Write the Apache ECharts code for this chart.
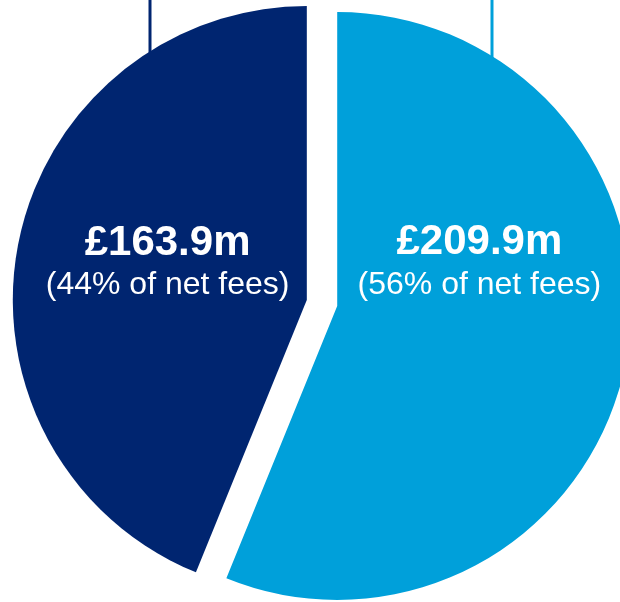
<!DOCTYPE html>
<html>
<head>
<meta charset="utf-8">
<script src="https://cdn.jsdelivr.net/npm/echarts@6/dist/echarts.min.js"></script>
<style>
  html, body { margin: 0; padding: 0; background: #fff; }
  #chart { width: 620px; height: 602px; }
</style>
</head>
<body>
<div id="chart"></div>
<script>
// net fees split (clockwise from 12 o'clock)
const segments = ['Segment B', 'Segment A'];
const feeValues = [209.9, 163.9];
const feeShares = [56, 44];
const segmentColors = ['#00a0da', '#002570'];

const chart = echarts.init(document.getElementById('chart'));

const pieData = segments.map((name, i) => ({
  name: name,
  value: feeValues[i],
  selected: true,
  itemStyle: { color: segmentColors[i] },
  select: { itemStyle: { color: segmentColors[i] } }
}));

// nudge the inside labels up to where the original sits them
const labelShift = [
  { dx: -5, dy: -71 },
  { dx: 8, dy: -7 }
];

const fontName = '"Liberation Sans", Arial, sans-serif';

chart.setOption({
  animation: false,
  graphic: [
    {
      type: 'line',
      z: -1,
      shape: { x1: 150, y1: 0, x2: 150, y2: 70 },
      style: { stroke: segmentColors[1], lineWidth: 3 }
    },
    {
      type: 'line',
      z: -1,
      shape: { x1: 492, y1: 0, x2: 492, y2: 75 },
      style: { stroke: segmentColors[0], lineWidth: 3 }
    }
  ],
  series: [
    {
      type: 'pie',
      center: [322, 303],
      radius: 294,
      startAngle: 90,
      clockwise: true,
      selectedMode: 'multiple',
      selectedOffset: 15.5,
      emphasis: { disabled: true },
      label: {
        show: true,
        position: 'inside',
        fontFamily: fontName,
        color: '#fff',
        formatter: params => {
          return '{v|£' + params.value.toFixed(1) + 'm}\n{p|(' +
            feeShares[params.dataIndex] + '% of net fees)}';
        },
        rich: {
          v: {
            fontFamily: fontName,
            fontSize: 42,
            fontWeight: 'bold',
            color: '#fff',
            lineHeight: 42
          },
          p: {
            fontFamily: fontName,
            fontSize: 32,
            color: '#fff',
            lineHeight: 42
          }
        }
      },
      labelLayout: params => labelShift[params.dataIndex],
      labelLine: { show: false },
      data: pieData
    }
  ]
});
</script>
</body>
</html>
